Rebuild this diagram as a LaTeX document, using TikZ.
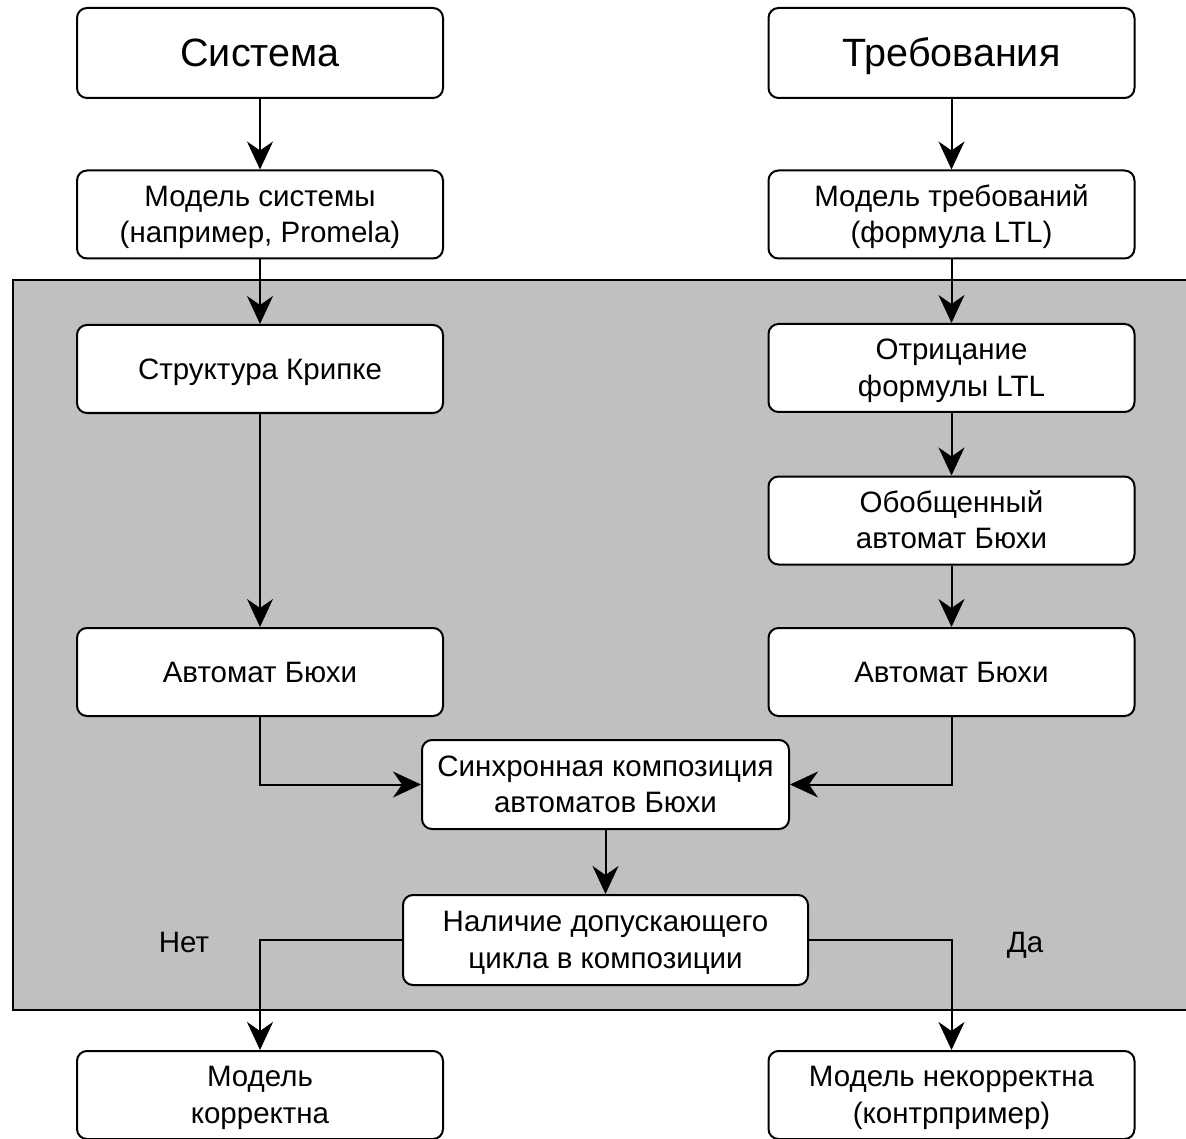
\documentclass[tikz,border=0pt]{standalone}
\usepackage{fontspec}
\setmainfont{Liberation Sans}
\usetikzlibrary{arrows.meta}
\definecolor{panelgray}{HTML}{C0C0C0}
% line strut: every text line occupies exactly 1.237em
\newcommand\ls{\rule[-0.272em]{0pt}{1.237em}}
\begin{document}
\begin{tikzpicture}[x=1pt,y=-1pt,
  box/.style={draw, line width=2pt, rounded corners=10pt, fill=white,
    minimum width=366pt, minimum height=88pt, align=center, inner sep=0pt,
    font=\fontsize{29.5}{36.5}\selectfont},
  bigbox/.style={box, minimum height=90pt, font=\fontsize{39.5}{48.9}\selectfont},
  flow/.style={line width=2pt, -{Stealth[length=28pt,width=26pt,inset=9pt]}},
  lbl/.style={font=\fontsize{29.5}{36.5}\selectfont, inner sep=0pt, anchor=base}]
\useasboundingbox (0,0) rectangle (1186,1139);
% shaded verification area
\draw[line width=2pt, fill=panelgray] (13,280) rectangle (1200,1010);

\node[bigbox] (sys) at (260,53) {\ls Система};
\node[bigbox] (req) at (951.5,53) {\ls Требования};
\node[box] (msys) at (260,214.5) {\ls Модель системы\\\ls(например, Promela)};
\node[box] (mreq) at (951.5,214.5) {\ls Модель требований\\\ls(формула LTL)};
\node[box] (kripke) at (260,369) {\ls Структура Крипке};
\node[box] (neg) at (951.5,368) {\ls Отрицание\\\ls формулы LTL};
\node[box] (gen) at (951.5,520.5) {\ls Обобщенный\\\ls автомат Бюхи};
\node[box] (buL) at (260,672) {\ls Автомат Бюхи};
\node[box] (buR) at (951.5,672) {\ls Автомат Бюхи};
\node[box, minimum width=367pt, minimum height=89pt] (sync) at (605.5,784.5) {\ls Синхронная композиция\\\ls автоматов Бюхи};
\node[box, minimum width=405pt, minimum height=90pt] (cyc) at (605.5,940) {\ls Наличие допускающего\\\ls цикла в композиции};
\node[box] (ok) at (260,1095) {\ls Модель\\\ls корректна};
\node[box] (bad) at (951.5,1095) {\ls Модель некорректна\\\ls(контрпример)};

\node[lbl] (no) at (184,952) {Нет};
\node[lbl] (yes) at (1025,952) {Да};

\draw[flow] (sys) -- (msys);
\draw[flow] (req) -- (mreq);
\draw[flow] (msys) -- (kripke);
\draw[flow] (mreq) -- (neg);
\draw[flow] (neg) -- (gen);
\draw[flow] (gen) -- (buR);
\draw[flow] (kripke) -- (buL);
\draw[flow] (buL.south) |- (sync.west);
\draw[flow] (buR.south) |- (sync.east);
\draw[flow] (sync) -- (cyc);
\draw[flow] (cyc.west) -| (ok.north);
\draw[flow] (cyc.east) -| (bad.north);
\end{tikzpicture}
\end{document}
